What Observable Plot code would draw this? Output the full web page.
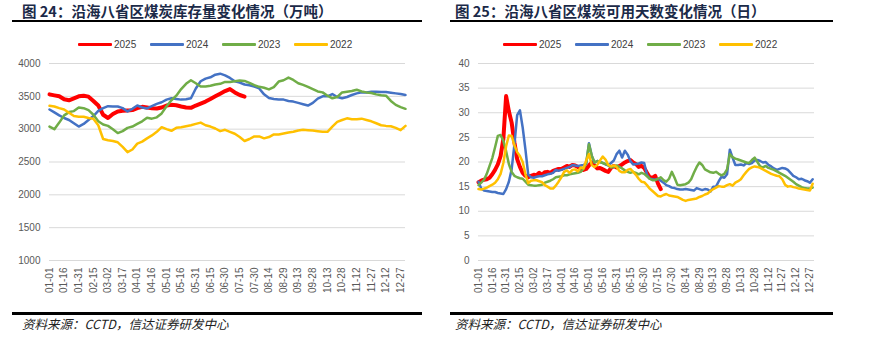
<!DOCTYPE html>
<html><head><meta charset="utf-8">
<script src="https://cdn.jsdelivr.net/npm/d3@7"></script>
<script src="https://cdn.jsdelivr.net/npm/@observablehq/plot@0.6"></script>
<style>
body{margin:0;background:#fff;}
#root{position:relative;width:869px;height:341px;overflow:hidden;font-family:"Liberation Sans",Arial,sans-serif;background:#fff;}
.title{position:absolute;top:2px;font-family:"Noto Sans CJK SC";font-weight:700;font-size:14.5px;line-height:18px;color:#1b2a48;white-space:nowrap;}
.rule{position:absolute;height:2px;background:#000;}
.legend{position:absolute;top:38px;display:flex;font-size:10px;color:#404040;}
.item{display:flex;align-items:center;width:72px;height:12px;}
.sw{width:34px;height:3px;margin-right:2px;border-radius:1px;}
.src{position:absolute;top:316px;font-family:"Noto Sans CJK SC";font-style:italic;font-size:12.5px;line-height:15px;color:#222;white-space:nowrap;}
.chart{position:absolute;top:55px;}
</style>
</head><body>
<div id="root">
  <div class="title" style="left:22px">图 24：沿海八省区煤炭库存量变化情况（万吨）</div>
  <div class="rule" style="left:12px;width:410px;top:20px"></div>
  <div class="legend" id="legL" style="left:78px"></div>
  <div class="chart" id="chartL" style="left:0px"></div>
  <div class="rule" style="left:12px;width:410px;top:312px;height:2.5px"></div>
  <div class="src" style="left:22px">资料来源：CCTD，信达证券研发中心</div>

  <div class="title" style="left:455px">图 25：沿海八省区煤炭可用天数变化情况（日）</div>
  <div class="rule" style="left:450px;width:383px;top:20px"></div>
  <div class="legend" id="legR" style="left:503px"></div>
  <div class="chart" id="chartR" style="left:435px"></div>
  <div class="rule" style="left:450px;width:383px;top:312px;height:2.5px"></div>
  <div class="src" style="left:455px">资料来源：CCTD，信达证券研发中心</div>
</div>
<script>
// ---- categories / labels ----
const years = ["2025", "2024", "2023", "2022"];
const colors = ["#ff0000", "#4472c4", "#70ad47", "#ffc000"];
const tickLabels = ["01-01","01-16","01-31","02-15","03-02","03-17","04-01","04-16","05-01","05-16",
  "05-31","06-15","06-30","07-15","07-30","08-14","08-29","09-13","09-28","10-13","10-28","11-12",
  "11-27","12-12","12-27"];
const yTicksL = [1000, 1500, 2000, 2500, 3000, 3500, 4000];
const yTicksR = [0, 5, 10, 15, 20, 25, 30, 35, 40];

// ---- left chart: inventory (万吨), sampled every 5 days from 01-01 ----
const inv2025 = [3530,3515,3500,3455,3440,3470,3500,3510,3495,3430,
  3360,3220,3170,3230,3270,3280,3285,3290,3320,3340,
  3330,3320,3315,3330,3360,3370,3365,3345,3330,3325,
  3360,3390,3420,3460,3500,3540,3580,3610,3560,3520,
  3495];
const inv2024 = [3300,3255,3210,3170,3140,3090,3040,3080,3140,3200,
  3280,3320,3350,3345,3345,3320,3270,3310,3360,3330,
  3315,3350,3385,3410,3450,3470,3460,3450,3455,3470,
  3620,3730,3770,3790,3830,3845,3820,3780,3730,3710,
  3680,3670,3650,3620,3530,3475,3460,3452,3450,3430,
  3420,3400,3380,3360,3400,3465,3500,3500,3535,3490,
  3470,3490,3520,3545,3560,3560,3570,3570,3565,3565,
  3555,3545,3535,3520];
const inv2023 = [3040,3000,3100,3210,3260,3275,3330,3320,3290,3220,
  3120,3070,3050,3000,2940,2970,3020,3040,3080,3120,
  3175,3160,3180,3240,3350,3440,3510,3610,3690,3745,
  3700,3650,3650,3660,3680,3690,3720,3720,3730,3740,
  3735,3705,3670,3645,3630,3605,3640,3725,3745,3785,
  3750,3700,3675,3645,3610,3575,3560,3510,3470,3490,
  3560,3570,3580,3600,3575,3560,3550,3530,3515,3510,
  3430,3370,3335,3310];
const inv2022 = [3355,3345,3320,3300,3250,3200,3190,3190,3170,3160,
  3060,2850,2830,2820,2800,2730,2650,2690,2780,2810,
  2860,2905,2960,3030,3000,2975,3020,3030,3045,3060,
  3080,3100,3060,3040,3010,2970,2990,2960,2930,2880,
  2820,2850,2890,2890,2860,2880,2920,2920,2935,2950,
  2960,2980,2990,2985,2980,2970,2960,2960,3040,3110,
  3140,3165,3150,3150,3160,3140,3120,3090,3060,3050,
  3045,3020,2985,3050];

// ---- right chart: days of supply (日), sampled every 3 days from 01-01 ----
const days2025 = [15.9,16.2,16.4,16.5,16.8,17.5,18.4,19.5,21.2,24.7,
  33.4,30.3,28.0,24.0,20.6,19.0,17.8,17.2,16.9,17.2,
  17.4,17.3,17.8,17.4,17.9,18.0,17.8,18.2,18.4,18.6,
  18.6,18.9,19.2,19.0,19.4,19.3,19.0,18.7,18.4,18.6,
  19.3,19.9,19.3,18.7,18.8,18.5,18.2,18.0,18.8,19.2,
  18.9,19.2,19.5,19.9,20.2,20.4,19.9,19.6,19.0,19.2,
  18.8,17.8,16.9,16.8,17.2,15.6,14.5];
const days2024 = [16.0,14.6,14.2,14.1,14.0,13.9,13.9,13.7,13.6,13.5,
  14.5,16.0,18.5,23.5,29.5,30.5,27.0,22.5,17.5,16.9,
  16.8,17.0,17.1,17.1,17.3,17.5,17.6,17.8,18.4,18.2,
  18.4,18.6,18.8,19.0,19.4,19.3,19.2,19.3,19.4,19.6,
  23.8,21.3,19.9,20.2,20.0,19.8,19.5,19.3,19.8,20.3,
  21.6,22.3,20.9,22.3,21.5,20.2,19.5,19.6,19.7,19.9,
  19.8,17.4,16.6,16.5,16.4,16.6,16.2,15.8,15.3,15.1,
  14.8,14.7,14.5,14.4,14.4,14.5,14.4,14.3,14.2,14.7,
  14.5,14.3,14.5,14.4,14.0,15.0,15.0,16.1,17.0,16.8,
  17.5,22.5,20.9,19.4,19.4,19.5,19.3,19.8,19.6,19.8,
  20.3,20.4,20.2,19.9,20.0,19.4,19.1,18.7,18.4,18.6,
  18.8,18.7,18.4,17.8,17.2,16.9,16.5,16.6,16.3,16.1,
  15.8,16.5];
const days2023 = [15.3,15.8,16.4,17.6,19.2,20.8,23.0,25.3,25.5,24.3,
  22.2,19.6,18.0,17.2,16.9,16.7,16.6,16.0,15.4,15.3,
  15.2,15.2,15.3,15.4,15.8,16.0,16.2,16.5,16.9,17.0,
  17.1,17.3,17.3,17.5,17.6,17.7,17.8,18.0,18.6,19.8,
  23.6,21.3,19.9,20.2,20.0,19.8,19.6,19.3,18.9,19.0,
  19.3,19.0,18.7,18.3,18.0,17.8,18.0,17.8,17.5,17.8,
  17.6,17.1,16.6,16.3,16.3,16.6,16.9,16.3,16.0,16.6,
  18.0,16.8,15.4,15.3,15.4,15.5,15.8,16.5,17.8,19.0,
  19.9,19.4,18.5,18.2,17.9,17.8,18.0,17.6,17.3,17.6,
  18.5,21.6,21.0,20.7,20.5,20.3,20.1,19.9,19.8,20.4,
  20.9,20.0,19.1,18.9,19.2,18.8,18.6,18.4,18.1,17.8,
  17.5,17.2,16.8,16.4,16.0,15.5,15.2,14.9,14.7,14.6,
  14.6,14.8];
const days2022 = [14.5,14.4,14.6,14.8,15.1,15.4,15.8,16.5,17.6,19.8,
  23.2,25.4,25.3,23.4,22.0,21.2,20.0,17.5,15.7,16.2,
  16.3,16.3,16.1,15.9,15.3,15.0,14.6,14.6,15.2,16.0,
  16.9,18.0,18.3,17.8,18.4,18.5,18.1,18.9,18.7,20.3,
  21.6,19.4,19.0,19.4,20.3,21.1,20.5,19.4,19.1,19.3,
  19.0,18.2,17.9,17.9,18.4,18.6,18.0,17.4,16.6,16.0,
  15.9,15.3,14.6,14.1,13.6,13.1,13.0,13.3,13.5,13.2,
  13.1,13.0,12.9,12.6,12.3,12.1,12.3,12.4,12.5,12.6,
  12.9,13.1,13.4,13.6,14.1,14.5,14.8,15.1,15.0,15.0,
  15.3,15.5,15.2,15.8,16.1,16.5,17.3,18.0,18.6,18.9,
  19.1,19.0,18.8,18.5,18.2,17.9,17.6,17.4,17.2,17.1,
  16.5,15.4,15.0,15.1,14.9,14.8,14.6,14.5,14.4,14.3,
  14.2,15.6];

const tickDays = tickLabels.map((_, i) => i * 15);

function rows(values, step, year) {
  return values.map((v, i) => ({day: i * step, value: v, year}));
}

function legend(id) {
  const el = document.getElementById(id);
  years.forEach((y, i) => {
    const it = document.createElement("div");
    it.className = "item";
    it.innerHTML = `<span class="sw" style="background:${colors[i]}"></span><span>${y}</span>`;
    el.appendChild(it);
  });
}

function chart(seriesList, step, yDomain, yTicks, width, mL, mR) {
  return Plot.plot({
    width, height: 255,
    marginLeft: mL, marginRight: mR, marginTop: 8, marginBottom: 50,
    x: {domain: [0, 365]},
    y: {domain: yDomain},
    style: {fontFamily: "'Liberation Sans', Arial, sans-serif", fontSize: "10px", color: "#595959", background: "transparent", overflow: "visible"},
    marks: [
      Plot.gridY(yTicks, {stroke: "#d9d9d9", strokeOpacity: 1, strokeWidth: 1}),
      Plot.axisY(yTicks, {tickSize: 0, tickPadding: 9, label: null, fill: "#595959",
        tickFormat: d => String(d)}),
      Plot.axisX(tickDays, {tickSize: 0, tickPadding: 7, tickRotate: -90, label: null, fill: "#595959",
        tickFormat: d => tickLabels[Math.round(d / 15)]}),
      ...seriesList.map((vals, i) => Plot.line(rows(vals, step, years[i]), {
        x: "day", y: "value", stroke: colors[i], strokeWidth: i === 0 ? 4 : 2.5,
        strokeLinejoin: "round", strokeLinecap: "round"
      }))
    ]
  });
}

legend("legL");
legend("legR");
document.getElementById("chartL").appendChild(
  chart([inv2025, inv2024, inv2023, inv2022], 5, [1000, 4000], yTicksL, 435, 49, 30));
document.getElementById("chartR").appendChild(
  chart([days2025, days2024, days2023, days2022], 3, [0, 40], yTicksR, 434, 43, 55));
</script>
</body></html>
